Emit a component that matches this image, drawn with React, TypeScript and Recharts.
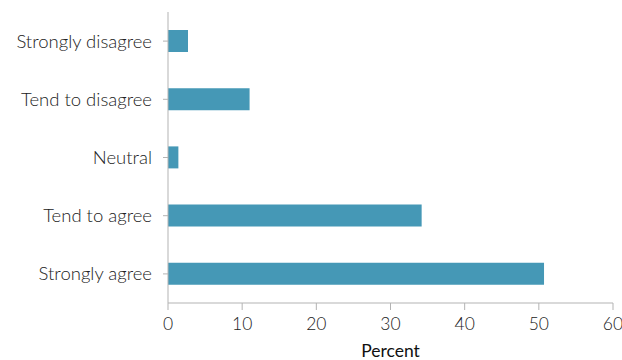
import { BarChart, Bar, XAxis, YAxis } from "recharts";

const categories = [
  "Strongly disagree",
  "Tend to disagree",
  "Neutral",
  "Tend to agree",
  "Strongly agree",
];
const percents = [2.7, 11.0, 1.4, 34.2, 50.7];
const xTicks = [0, 10, 20, 30, 40, 50, 60];

const chartData = categories.map((c, i) => ({ name: c, value: percents[i] }));

const FONT = "Lato, 'Noto Sans', sans-serif";
const TEXT = "#222222";
const AXIS = "#b3b3b3";

export default function App() {
  return (
    <div style={{ width: 622, height: 360 }}>
      <style>{`body{margin:0}`}</style>
      <BarChart
        width={622}
        height={360}
        data={chartData}
        layout="vertical"
        margin={{ top: 12, right: 9, left: 0, bottom: 0 }}
        barSize={22}
      >
        <XAxis
          type="number"
          domain={[0, 60]}
          ticks={xTicks}
          height={57}
          stroke={AXIS}
          tickSize={7}
          tickMargin={8}
          tick={{ fill: TEXT, fontSize: 17.5, fontFamily: FONT, fontWeight: 300 }}
          label={{
            value: "Percent",
            position: "insideBottom",
            offset: 3,
            fill: "#111",
            fontSize: 17.5,
            fontFamily: FONT,
          }}
        />
        <YAxis
          type="category"
          dataKey="name"
          width={168}
          stroke={AXIS}
          tickSize={5}
          tickMargin={11}
          tick={{ fill: TEXT, fontSize: 18.5, fontFamily: FONT, fontWeight: 300 }}
          interval={0}
        />
        <Bar dataKey="value" fill="#4598b6" isAnimationActive={false} />
      </BarChart>
    </div>
  );
}
